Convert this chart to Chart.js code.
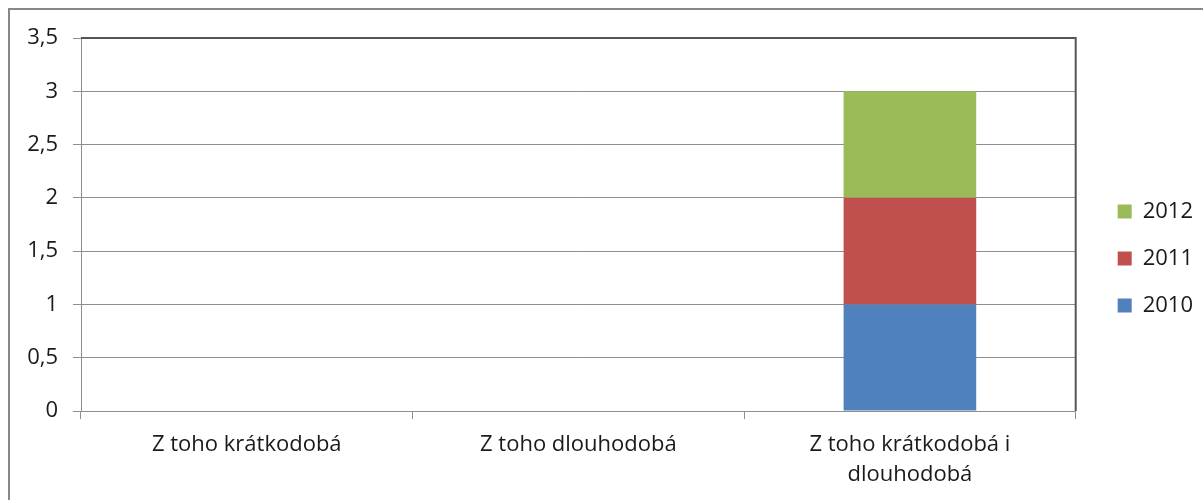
<!DOCTYPE html>
<html>
<head>
<meta charset="utf-8">
<script src="https://cdn.jsdelivr.net/npm/chart.js@4"></script>
<style>
  html, body { margin: 0; padding: 0; background: #fff; }
  #wrap { width: 1203px; height: 500px; position: relative; }
</style>
</head>
<body>
<div id="wrap"><canvas id="c"></canvas></div>
<script>
  const categories = ['Z toho krátkodobá', 'Z toho dlouhodobá', ['Z toho krátkodobá i', 'dlouhodobá']];
  const years = ['2010', '2011', '2012'];
  const values2010 = [0, 0, 1];
  const values2011 = [0, 0, 1];
  const values2012 = [0, 0, 1];
  const colors = ['#4F81BD', '#C0504D', '#9BBB59'];
  const yTicks = [0, 0.5, 1, 1.5, 2, 2.5, 3, 3.5];

  const FONT = '"Open Sans", Lato, sans-serif';

  // excel-like frame: outer chart border + dark plot border top/right
  const framePlugin = {
    id: 'framePlugin',
    afterDraw(chart) {
      const { ctx, chartArea } = chart;
      ctx.save();
      ctx.strokeStyle = '#878787';
      ctx.lineWidth = 2;
      ctx.beginPath();
      ctx.moveTo(9, 520);
      ctx.lineTo(9, 9);
      ctx.lineTo(1220, 9);
      ctx.stroke();
      ctx.strokeStyle = '#555555';
      ctx.lineWidth = 2;
      ctx.beginPath();
      ctx.moveTo(chartArea.left, chartArea.top);
      ctx.lineTo(chartArea.right, chartArea.top);
      ctx.lineTo(chartArea.right, chartArea.bottom);
      ctx.stroke();
      ctx.restore();
    }
  };

  const datasets = [values2010, values2011, values2012].map((data, i) => ({
    label: years[i],
    data,
    backgroundColor: colors[i],
    borderWidth: 0,
    categoryPercentage: 1,
    barPercentage: 0.4
  }));

  const chart = new Chart(document.getElementById('c'), {
    type: 'bar',
    data: { labels: categories, datasets },
    options: {
      responsive: true,
      maintainAspectRatio: false,
      animation: false,
      layout: { padding: { top: 38, right: 0, bottom: 0, left: 0 } },
      scales: {
        x: {
          stacked: true,
          offset: true,
          grid: { offset: true, drawOnChartArea: false, drawTicks: true, tickLength: 8, color: '#8e8e8e' },
          border: { color: '#8e8e8e', width: 1 },
          ticks: { color: '#1a1a1a', font: { family: FONT, size: 22, lineHeight: 1.35 }, padding: 11, maxRotation: 0, autoSkip: false },
          afterFit(scale) { scale.height = 89; }
        },
        y: {
          stacked: true,
          min: 0,
          max: 3.5,
          afterBuildTicks(scale) { scale.ticks = yTicks.map(v => ({ value: v })); },
          grid: { color: '#8e8e8e', tickLength: 8, drawTicks: true },
          border: { color: '#8e8e8e', width: 1 },
          ticks: {
            color: '#1a1a1a',
            font: { family: FONT, size: 22 },
            padding: 15,
            callback: (v) => String(v).replace('.', ',')
          },
          afterFit(scale) { scale.width = 81; }
        },
        // empty spacer between plot area and legend
        gap: {
          type: 'linear',
          position: 'right',
          display: true,
          grid: { display: false },
          border: { display: false },
          ticks: { display: false },
          afterFit(scale) { scale.width = 17; }
        }
      },
      plugins: {
        legend: {
          position: 'right',
          align: 'start',
          reverse: true,
          title: { display: true, text: '', font: { size: 16, lineHeight: 1 }, padding: { top: 60, bottom: 61.5 } },
          labels: {
            boxWidth: 14,
            boxHeight: 14,
            padding: 25,
            color: '#1a1a1a',
            font: { family: FONT, size: 22 }
          }
        },
        tooltip: { enabled: false }
      }
    },
    plugins: [framePlugin]
  });
</script>
</body>
</html>
